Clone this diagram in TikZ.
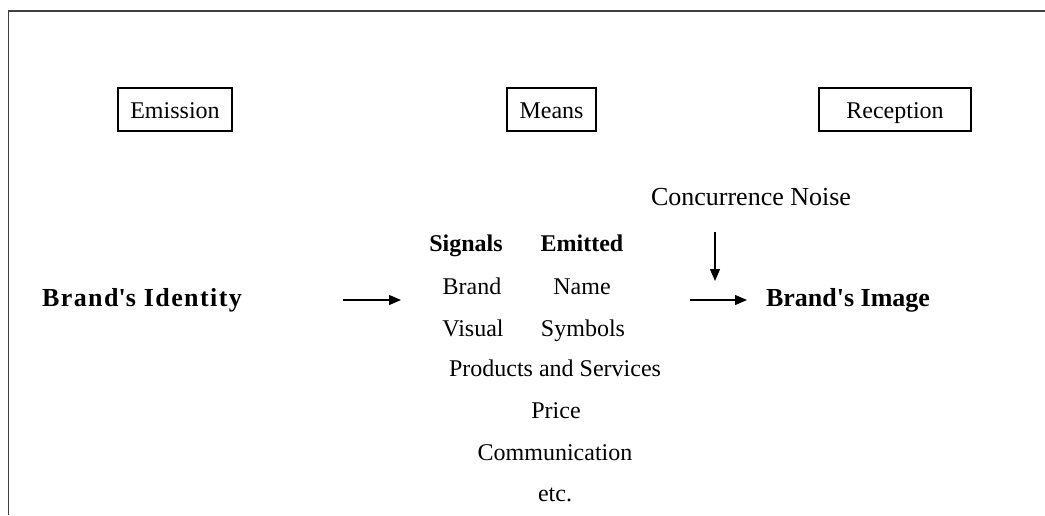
\documentclass[tikz,border=0pt]{standalone}
\usepackage{fontspec}
\setmainfont{Liberation Serif}
\usetikzlibrary{arrows.meta}
\newcommand{\apos}{\textquotesingle}
\begin{document}
\begin{tikzpicture}[x=1pt,y=-1pt,
  txt/.style={anchor=base,inner sep=0pt,font=\fontsize{24}{28}\selectfont},
  btxt/.style={txt,font=\fontsize{24}{28}\selectfont\bfseries},
  bigtxt/.style={txt,font=\fontsize{26}{30}\selectfont},
  bigbtxt/.style={txt,font=\fontsize{26}{30}\selectfont\bfseries},
  headbox/.style={draw,line width=1.1pt,inner sep=0pt,minimum height=43pt,
    text height=17pt,text depth=0pt,font=\fontsize{24}{28}\selectfont},
  flow/.style={line width=1.3pt,-{Triangle[length=12pt,width=10pt]}},
  frame/.style={line width=1.6pt,draw=black!75}]
\useasboundingbox (0,0) rectangle (1045,515);

% open frame: top and left edges only
\coordinate (ftl) at (8.5,11);
\coordinate (ftr) at (1045,11);
\coordinate (fbl) at (8.5,515);
\draw[frame] (ftr) -- (ftl) -- (fbl);

% column headings
\node[headbox,minimum width=114pt] (emission) at (175,109.5) {Emission};
\node[headbox,minimum width=89pt] (means) at (551.5,109.5) {Means};
\node[headbox,minimum width=152pt] (reception) at (895,109.5) {Reception};

% sender and receiver
\node[bigbtxt] (identity) at (142,306)
  {\addfontfeature{LetterSpace=5.5}Brand\apos s Identity};
\node[bigbtxt] (image) at (848,306) {Brand\apos s Image};
\node[bigtxt] (noise) at (751,205) {Concurrence Noise};

% emitted signals
\node[btxt] (signals) at (466,251) {Signals};
\node[btxt] (emitted) at (582,251) {Emitted};
\node[txt] (brand) at (472,294) {Brand};
\node[txt] (name) at (582,294) {Name};
\node[txt] (visual) at (473,336) {Visual};
\node[txt] (symbols) at (583,336) {Symbols};
\node[txt] (products) at (555,376) {Products and Services};
\node[txt] (price) at (556,418) {Price};
\node[txt] (comm) at (555,460) {Communication};
\node[txt] (etc) at (555,501.5) {etc.};

% arrows
\coordinate (inA) at (343,300);
\coordinate (inB) at (401,300);
\coordinate (outA) at (690,300);
\coordinate (outB) at (747,300);
\coordinate (noiseA) at (715,232);
\coordinate (noiseB) at (715,281);
\draw[flow] (inA) -- (inB);
\draw[flow] (outA) -- (outB);
\draw[flow] (noiseA) -- (noiseB);
\end{tikzpicture}
\end{document}
